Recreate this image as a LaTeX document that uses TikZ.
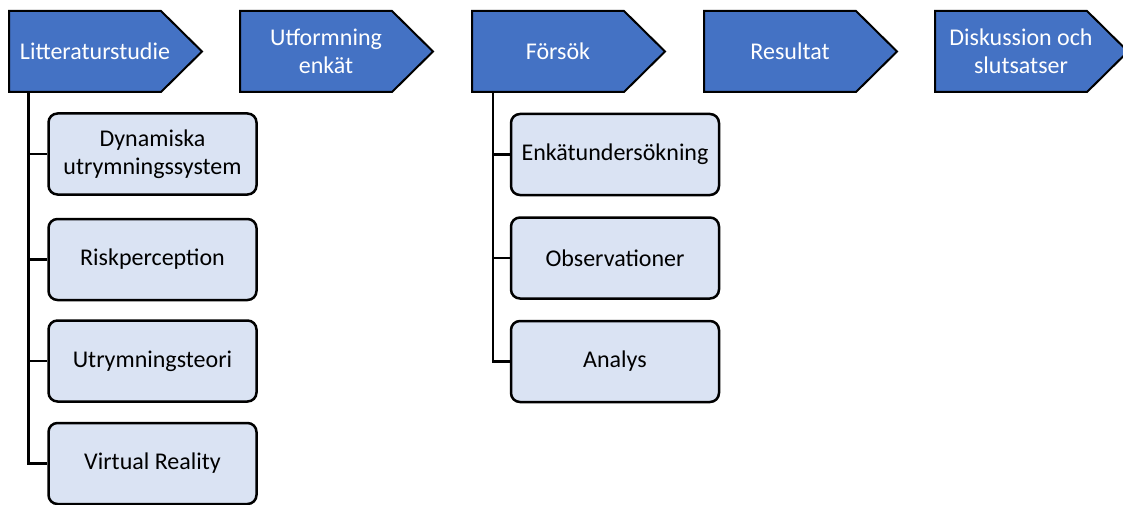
\documentclass[tikz,border=0pt]{standalone}
\usepackage{fontspec}
\setmainfont{Carlito}
\usetikzlibrary{calc}
\definecolor{chevblue}{HTML}{4472C4}
\definecolor{subfill}{HTML}{DAE3F3}
\begin{document}
\begin{tikzpicture}[x=1pt,y=-1pt,
  chevbody/.style={minimum width=152pt, minimum height=81pt, inner sep=0pt, outer sep=0pt},
  chevshape/.style={fill=chevblue, draw=black, line width=2pt, line join=miter},
  chevtext/.style={text=white, font=\fontsize{24}{28.5}\selectfont, align=center, inner sep=0pt},
  subbox/.style={draw=black, line width=2.5pt, fill=subfill, rounded corners=9pt,
    minimum width=208pt, minimum height=81pt, inner sep=0pt,
    font=\fontsize{24}{28.5}\selectfont, align=center},
  conn/.style={draw=black, line width=2.8pt}]
\useasboundingbox (0,0) rectangle (1123,505);

% chevron bodies
\foreach \L/\n in {9/c1, 240/c2, 472/c3, 704/c4, 935/c5}{
  \node[chevbody] (\n) at (\L+76, 51.5) {};
  \draw[chevshape] (\n.north west) -- (\n.north east) -- ($(\n.east)+(41,0)$)
     -- (\n.south east) -- (\n.south west) -- cycle;
}
\node[chevtext] (t1) at ($(c1.center)+(10,0)$) {Litteraturstudie};
\node[chevtext] (t2) at ($(c2.center)+(10,0)$) {Utformning\\enkät};
\node[chevtext] (t3) at ($(c3.center)+(10,0)$) {Försök};
\node[chevtext] (t4) at ($(c4.center)+(10,0)$) {Resultat};
\node[chevtext] (t5) at ($(c5.center)+(10,0)$) {Diskussion och\\slutsatser};

% sub boxes under Litteraturstudie
\node[subbox] (s1) at (152.5,154) {Dynamiska\\utrymningssystem};
\node[subbox] (s2) at (152.5,259.5) {Riskperception};
\node[subbox] (s3) at (152.5,361) {Utrymningsteori};
\node[subbox] (s4) at (152.5,463.5) {Virtual Reality};

% sub boxes under Försök
\node[subbox] (f1) at (615,154.5) {Enkätundersökning};
\node[subbox] (f2) at (615,258) {Observationer};
\node[subbox] (f3) at (615,361.5) {Analys};

% connectors
\coordinate (k1) at ($(c1.south west)+(19.5,0)$);
\coordinate (k3) at ($(c3.south west)+(21,0)$);
\draw[conn] (k1) |- (s4.west);
\draw[conn] (s1.west -| k1) -- (s1.west);
\draw[conn] (s2.west -| k1) -- (s2.west);
\draw[conn] (s3.west -| k1) -- (s3.west);
\draw[conn] (k3) |- (f3.west);
\draw[conn] (f1.west -| k3) -- (f1.west);
\draw[conn] (f2.west -| k3) -- (f2.west);
\end{tikzpicture}
\end{document}
